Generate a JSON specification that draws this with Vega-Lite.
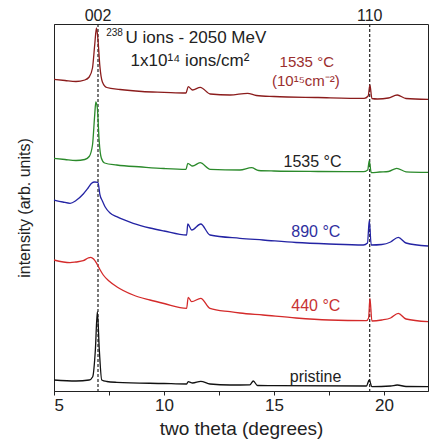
{
  "$schema": "https://vega.github.io/schema/vega-lite/v6.json",
  "width": 374,
  "height": 367,
  "autosize": {"type": "none"},
  "padding": {"left": 54, "top": 24, "right": 2, "bottom": 50},
  "background": "white",
  "config": {
    "view": {"stroke": "#222", "strokeWidth": 1},
    "font": "Liberation Sans",
    "axis": {"domainColor": "#222", "tickColor": "#222", "labelColor": "#222", "titleColor": "#222", "titleFontWeight": "normal", "grid": false}
  },
  "datasets": {
    "curves": [
      {"s": "1535C_1e15", "x": 5.0, "y": 311.7},
      {"s": "1535C_1e15", "x": 5.5, "y": 310.5},
      {"s": "1535C_1e15", "x": 6.0, "y": 309.5},
      {"s": "1535C_1e15", "x": 6.4, "y": 311},
      {"s": "1535C_1e15", "x": 6.6, "y": 314},
      {"s": "1535C_1e15", "x": 6.75, "y": 323},
      {"s": "1535C_1e15", "x": 6.85, "y": 346},
      {"s": "1535C_1e15", "x": 6.93, "y": 363},
      {"s": "1535C_1e15", "x": 7.0, "y": 351},
      {"s": "1535C_1e15", "x": 7.08, "y": 326},
      {"s": "1535C_1e15", "x": 7.2, "y": 309},
      {"s": "1535C_1e15", "x": 7.4, "y": 303.5},
      {"s": "1535C_1e15", "x": 8.0, "y": 301.5},
      {"s": "1535C_1e15", "x": 9.0, "y": 299.5},
      {"s": "1535C_1e15", "x": 10.0, "y": 298.7},
      {"s": "1535C_1e15", "x": 11.0, "y": 298},
      {"s": "1535C_1e15", "x": 11.1, "y": 304.3},
      {"s": "1535C_1e15", "x": 11.3, "y": 301},
      {"s": "1535C_1e15", "x": 11.65, "y": 303.7},
      {"s": "1535C_1e15", "x": 12.1, "y": 297},
      {"s": "1535C_1e15", "x": 13.0, "y": 296},
      {"s": "1535C_1e15", "x": 13.8, "y": 297.7},
      {"s": "1535C_1e15", "x": 14.2, "y": 295.5},
      {"s": "1535C_1e15", "x": 15.0, "y": 294.5},
      {"s": "1535C_1e15", "x": 17.0, "y": 293.5},
      {"s": "1535C_1e15", "x": 19.1, "y": 292.7},
      {"s": "1535C_1e15", "x": 19.28, "y": 295},
      {"s": "1535C_1e15", "x": 19.36, "y": 306},
      {"s": "1535C_1e15", "x": 19.45, "y": 292.5},
      {"s": "1535C_1e15", "x": 19.7, "y": 292},
      {"s": "1535C_1e15", "x": 20.2, "y": 293},
      {"s": "1535C_1e15", "x": 20.6, "y": 296},
      {"s": "1535C_1e15", "x": 21.0, "y": 292.5},
      {"s": "1535C_1e15", "x": 22.0, "y": 291.7},

      {"s": "1535C", "x": 5.0, "y": 232.7},
      {"s": "1535C", "x": 5.5, "y": 231.5},
      {"s": "1535C", "x": 6.0, "y": 230.5},
      {"s": "1535C", "x": 6.4, "y": 231.5},
      {"s": "1535C", "x": 6.6, "y": 234.5},
      {"s": "1535C", "x": 6.75, "y": 246},
      {"s": "1535C", "x": 6.85, "y": 276},
      {"s": "1535C", "x": 6.9, "y": 289},
      {"s": "1535C", "x": 6.97, "y": 283},
      {"s": "1535C", "x": 7.05, "y": 251},
      {"s": "1535C", "x": 7.15, "y": 233},
      {"s": "1535C", "x": 7.3, "y": 228},
      {"s": "1535C", "x": 7.85, "y": 226},
      {"s": "1535C", "x": 9.0, "y": 224},
      {"s": "1535C", "x": 10.0, "y": 222.5},
      {"s": "1535C", "x": 11.0, "y": 221.7},
      {"s": "1535C", "x": 11.08, "y": 227.7},
      {"s": "1535C", "x": 11.3, "y": 225},
      {"s": "1535C", "x": 11.64, "y": 228.3},
      {"s": "1535C", "x": 12.1, "y": 221.7},
      {"s": "1535C", "x": 13.45, "y": 221},
      {"s": "1535C", "x": 13.98, "y": 223.3},
      {"s": "1535C", "x": 14.3, "y": 220.5},
      {"s": "1535C", "x": 15.0, "y": 220},
      {"s": "1535C", "x": 17.0, "y": 219.5},
      {"s": "1535C", "x": 19.06, "y": 219.3},
      {"s": "1535C", "x": 19.26, "y": 221},
      {"s": "1535C", "x": 19.33, "y": 230.3},
      {"s": "1535C", "x": 19.42, "y": 218.3},
      {"s": "1535C", "x": 19.8, "y": 219},
      {"s": "1535C", "x": 20.2, "y": 219.5},
      {"s": "1535C", "x": 20.58, "y": 222.7},
      {"s": "1535C", "x": 21.0, "y": 219.2},
      {"s": "1535C", "x": 22.0, "y": 218.7},

      {"s": "890C", "x": 5.0, "y": 191},
      {"s": "890C", "x": 5.4, "y": 189},
      {"s": "890C", "x": 5.73, "y": 187.7},
      {"s": "890C", "x": 6.0, "y": 190.5},
      {"s": "890C", "x": 6.33, "y": 197},
      {"s": "890C", "x": 6.55, "y": 203},
      {"s": "890C", "x": 6.71, "y": 207.7},
      {"s": "890C", "x": 6.85, "y": 209},
      {"s": "890C", "x": 7.0, "y": 208.5},
      {"s": "890C", "x": 7.09, "y": 196},
      {"s": "890C", "x": 7.2, "y": 190},
      {"s": "890C", "x": 7.32, "y": 184.3},
      {"s": "890C", "x": 7.55, "y": 178},
      {"s": "890C", "x": 7.85, "y": 174.3},
      {"s": "890C", "x": 8.6, "y": 167.7},
      {"s": "890C", "x": 9.36, "y": 163},
      {"s": "890C", "x": 10.0, "y": 160},
      {"s": "890C", "x": 11.03, "y": 156},
      {"s": "890C", "x": 11.08, "y": 167},
      {"s": "890C", "x": 11.26, "y": 161},
      {"s": "890C", "x": 11.67, "y": 167},
      {"s": "890C", "x": 12.09, "y": 156},
      {"s": "890C", "x": 13.45, "y": 152.7},
      {"s": "890C", "x": 14.5, "y": 151},
      {"s": "890C", "x": 16.0, "y": 148.5},
      {"s": "890C", "x": 17.5, "y": 147},
      {"s": "890C", "x": 19.06, "y": 146},
      {"s": "890C", "x": 19.25, "y": 148},
      {"s": "890C", "x": 19.33, "y": 170.5},
      {"s": "890C", "x": 19.42, "y": 146},
      {"s": "890C", "x": 19.9, "y": 146.5},
      {"s": "890C", "x": 20.3, "y": 149},
      {"s": "890C", "x": 20.65, "y": 153.7},
      {"s": "890C", "x": 21.0, "y": 148},
      {"s": "890C", "x": 22.0, "y": 145},

      {"s": "440C", "x": 5.0, "y": 131},
      {"s": "440C", "x": 5.73, "y": 128.3},
      {"s": "440C", "x": 6.0, "y": 129},
      {"s": "440C", "x": 6.33, "y": 130.3},
      {"s": "440C", "x": 6.55, "y": 133},
      {"s": "440C", "x": 6.67, "y": 133.7},
      {"s": "440C", "x": 6.8, "y": 132},
      {"s": "440C", "x": 6.94, "y": 127.7},
      {"s": "440C", "x": 7.1, "y": 121},
      {"s": "440C", "x": 7.24, "y": 116},
      {"s": "440C", "x": 7.5, "y": 110},
      {"s": "440C", "x": 7.85, "y": 104.3},
      {"s": "440C", "x": 8.6, "y": 96},
      {"s": "440C", "x": 9.36, "y": 91},
      {"s": "440C", "x": 10.0, "y": 87.5},
      {"s": "440C", "x": 11.03, "y": 82.7},
      {"s": "440C", "x": 11.1, "y": 93.7},
      {"s": "440C", "x": 11.26, "y": 89.3},
      {"s": "440C", "x": 11.67, "y": 92.7},
      {"s": "440C", "x": 12.09, "y": 82.7},
      {"s": "440C", "x": 13.0, "y": 79.3},
      {"s": "440C", "x": 13.45, "y": 78},
      {"s": "440C", "x": 14.5, "y": 76},
      {"s": "440C", "x": 16.0, "y": 73},
      {"s": "440C", "x": 17.5, "y": 71},
      {"s": "440C", "x": 19.2, "y": 70.3},
      {"s": "440C", "x": 19.3, "y": 73},
      {"s": "440C", "x": 19.36, "y": 92.7},
      {"s": "440C", "x": 19.45, "y": 70},
      {"s": "440C", "x": 19.9, "y": 71},
      {"s": "440C", "x": 20.3, "y": 73},
      {"s": "440C", "x": 20.65, "y": 77.7},
      {"s": "440C", "x": 21.0, "y": 72},
      {"s": "440C", "x": 22.0, "y": 69.3},

      {"s": "pristine", "x": 5.0, "y": 11},
      {"s": "pristine", "x": 6.0, "y": 10},
      {"s": "pristine", "x": 6.6, "y": 11},
      {"s": "pristine", "x": 6.76, "y": 14.3},
      {"s": "pristine", "x": 6.88, "y": 41},
      {"s": "pristine", "x": 6.97, "y": 79.3},
      {"s": "pristine", "x": 7.06, "y": 41},
      {"s": "pristine", "x": 7.17, "y": 11},
      {"s": "pristine", "x": 7.4, "y": 9.5},
      {"s": "pristine", "x": 7.85, "y": 8.7},
      {"s": "pristine", "x": 10.0, "y": 7.5},
      {"s": "pristine", "x": 11.03, "y": 7},
      {"s": "pristine", "x": 11.1, "y": 9.3},
      {"s": "pristine", "x": 11.3, "y": 8},
      {"s": "pristine", "x": 11.67, "y": 9.7},
      {"s": "pristine", "x": 12.09, "y": 7},
      {"s": "pristine", "x": 13.0, "y": 6},
      {"s": "pristine", "x": 13.9, "y": 6.2},
      {"s": "pristine", "x": 14.06, "y": 10},
      {"s": "pristine", "x": 14.25, "y": 5.5},
      {"s": "pristine", "x": 15.0, "y": 5.3},
      {"s": "pristine", "x": 19.2, "y": 5},
      {"s": "pristine", "x": 19.33, "y": 11},
      {"s": "pristine", "x": 19.45, "y": 4.3},
      {"s": "pristine", "x": 20.3, "y": 5},
      {"s": "pristine", "x": 20.6, "y": 6},
      {"s": "pristine", "x": 21.0, "y": 4.5},
      {"s": "pristine", "x": 22.0, "y": 4.3}
    ],
    "peaks": [
      {"x": 7.0, "label": "002"},
      {"x": 19.35, "label": "110"}
    ],
    "notes": [
      {"text": "238", "x": 7.75, "y": 358, "g": "ink", "size": "tiny"},
      {"text": "U ions - 2050 MeV", "x": 11.45, "y": 353, "g": "ink", "size": "large"},
      {"text": "1x10¹⁴ ions/cm²", "x": 11.18, "y": 330, "g": "ink", "size": "large"},
      {"text": "1535 °C", "x": 16.49, "y": 329, "g": "darkred", "size": "small"},
      {"text": "(10¹⁵cm⁻²)", "x": 16.45, "y": 310, "g": "darkred", "size": "small"},
      {"text": "1535 °C", "x": 16.75, "y": 229.3, "g": "ink", "size": "medium"},
      {"text": "890 °C", "x": 16.9, "y": 158.7, "g": "blue", "size": "medium"},
      {"text": "440 °C", "x": 16.9, "y": 85, "g": "red", "size": "medium"},
      {"text": "pristine", "x": 16.89, "y": 14, "g": "ink", "size": "medium"}
    ]
  },
  "layer": [
    {
      "data": {"name": "peaks"},
      "mark": {"type": "rule", "color": "#222", "strokeDash": [3, 2], "strokeWidth": 1.2},
      "encoding": {
        "x": {"field": "x", "type": "quantitative"}
      }
    },
    {
      "data": {"name": "peaks"},
      "mark": {"type": "text", "fontSize": 16, "color": "#222", "baseline": "middle", "align": "center"},
      "encoding": {
        "x": {"field": "x", "type": "quantitative"},
        "y": {"datum": 375, "type": "quantitative"},
        "text": {"field": "label"}
      }
    },
    {
      "data": {"name": "curves"},
      "mark": {"type": "line", "strokeWidth": 1.3, "interpolate": "monotone"},
      "encoding": {
        "x": {
          "field": "x", "type": "quantitative",
          "scale": {"domain": [5, 22], "nice": false, "zero": false},
          "axis": {
            "title": "two theta (degrees)",
            "values": [5, 7.5, 10, 12.5, 15, 17.5, 20],
            "labelExpr": "datum.value % 5 === 0 ? datum.label : ''",
            "tickSize": 4,
            "labelPadding": 2,
            "labelFontSize": 17,
            "titleFontSize": 19,
            "titlePadding": 6,
            "labelFont": "Liberation Sans",
            "titleFont": "Liberation Sans"
          }
        },
        "y": {
          "field": "y", "type": "quantitative",
          "scale": {"domain": [0, 367], "nice": false, "zero": false},
          "axis": {
            "title": "intensity (arb. units)",
            "labels": false,
            "ticks": false,
            "titleFontSize": 16,
            "titlePadding": 22,
            "titleFont": "Liberation Sans"
          }
        },
        "color": {
          "field": "s", "type": "nominal", "legend": null,
          "scale": {
            "domain": ["1535C_1e15", "1535C", "890C", "440C", "pristine"],
            "range": ["#8b1c1c", "#2b8a2b", "#2424a4", "#d42a2a", "#111111"]
          }
        },
        "detail": {"field": "s"}
      }
    },
    {
      "data": {"name": "notes"},
      "mark": {"type": "text", "baseline": "middle", "align": "center"},
      "encoding": {
        "x": {"field": "x", "type": "quantitative"},
        "y": {"field": "y", "type": "quantitative"},
        "text": {"field": "text"},
        "size": {
          "field": "size", "type": "nominal", "legend": null,
          "scale": {"type": "ordinal", "domain": ["large", "medium", "small", "tiny"], "range": [17, 16, 15, 10]}
        },
        "color": {
          "field": "g", "type": "nominal", "legend": null,
          "scale": {
            "domain": ["ink", "darkred", "blue", "red"],
            "range": ["#222222", "#9a2e2e", "#2f2fa0", "#c83232"]
          }
        }
      }
    }
  ],
  "resolve": {"scale": {"color": "independent"}}
}
